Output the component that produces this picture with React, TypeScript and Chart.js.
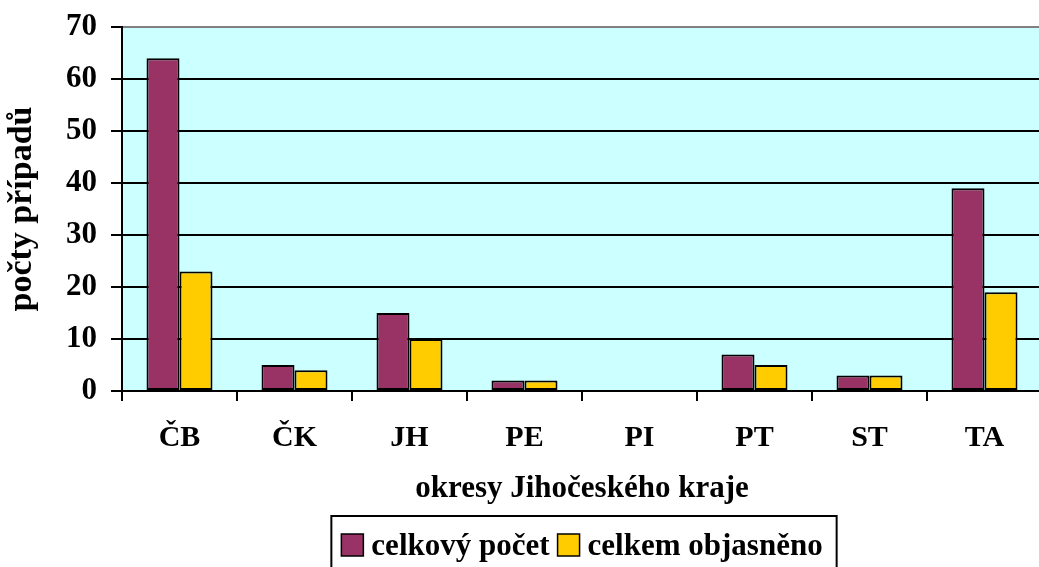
import React, { useEffect, useRef } from "react";
import { Chart, registerables } from "chart.js";

Chart.register(...registerables);

const categories = ["ČB", "ČK", "JH", "PE", "PI", "PT", "ST", "TA"];
const celkovyPocet = [64, 5, 15, 2, 0, 7, 3, 39];
const celkemObjasneno = [23, 4, 10, 2, 0, 5, 3, 19];
const seriesNames = ["celkový počet", "celkem objasněno"];
const xTitle = "okresy Jihočeského kraje";
const yTitle = "počty případů";
const yMin = 0;
const yMax = 70;
const yStep = 10;

const FONT = "'Times New Roman', 'Liberation Serif', serif";

const bgPlugin = {
  id: "plotBg",
  beforeDraw(chart: any) {
    const { ctx, chartArea } = chart;
    ctx.save();
    ctx.fillStyle = "#CCFFFF";
    ctx.fillRect(chartArea.left, chartArea.top, chartArea.right - chartArea.left, chartArea.bottom - chartArea.top);
    ctx.restore();
  },
};

const legendPlugin = {
  id: "boxLegend",
  afterDraw(chart: any) {
    const ctx = chart.ctx;
    const xs = chart.scales.x;
    const cx = (xs.left + xs.right) / 2;
    ctx.save();
    ctx.font = `bold 31px ${FONT}`;
    const sq = 22, gapSq = 8, gapItem = 8, padX = 10;
    const items = chart.data.datasets.map((d: any) => ({
      label: d.label,
      color: d.backgroundColor,
      w: ctx.measureText(d.label).width,
    }));
    const total =
      padX * 2 +
      items.reduce((s: number, it: any) => s + sq + gapSq + it.w, 0) +
      gapItem * (items.length - 1);
    let x = cx - total / 2;
    const top = 516;
    ctx.strokeStyle = "#000";
    ctx.lineWidth = 2;
    ctx.strokeRect(x, top, total + 4, 100);
    x += padX;
    const midY = 545;
    ctx.textBaseline = "middle";
    ctx.textAlign = "left";
    for (const it of items) {
      ctx.fillStyle = it.color;
      ctx.fillRect(x, midY - sq / 2, sq, sq);
      ctx.lineWidth = 1.5;
      ctx.strokeRect(x, midY - sq / 2, sq, sq);
      x += sq + gapSq;
      ctx.fillStyle = "#000";
      ctx.fillText(it.label, x, midY + 2);
      x += it.w + gapItem;
    }
    ctx.restore();
  },
};

export default function App() {
  const ref = useRef<HTMLCanvasElement>(null);
  useEffect(() => {
    if (!ref.current) return;
    const chart = new Chart(ref.current, {
      type: "bar",
      data: {
        labels: categories,
        datasets: [
          {
            label: seriesNames[0],
            data: celkovyPocet,
            backgroundColor: "#993366",
            borderColor: "#000",
            borderWidth: 2,
            borderSkipped: false,
          },
          {
            label: seriesNames[1],
            data: celkemObjasneno,
            backgroundColor: "#FFCC00",
            borderColor: "#000",
            borderWidth: 2,
            borderSkipped: false,
          },
        ],
      },
      options: {
        responsive: false,
        animation: false,
        layout: { padding: { left: 0, top: 27, right: 8, bottom: 59 } },
        datasets: { bar: { categoryPercentage: 0.574, barPercentage: 1.0 } },
        plugins: { legend: { display: false }, tooltip: { enabled: false } },
        scales: {
          x: {
            grid: { drawOnChartArea: false, offset: true, tickLength: 10, color: "#000", lineWidth: 2 },
            border: { color: "#000", width: 2 },
            ticks: { color: "#000", padding: 19, font: { family: FONT, size: 30, weight: "bold" } },
            title: {
              display: true,
              text: xTitle,
              color: "#000",
              padding: { top: 0, bottom: 0 },
              font: { family: FONT, size: 31, weight: "bold" },
            },
            afterFit(scale: any) {
              scale.height = 117;
              scale.paddingLeft = 0;
              scale.paddingRight = 0;
            },
          },
          y: {
            min: yMin,
            max: yMax,
            grid: {
              color: (c: any) => (c.tick && c.tick.value === yMax ? "#808080" : "#000"),
              lineWidth: 2,
              tickLength: 11,
              tickColor: "#000",
            },
            border: { color: "#000", width: 2 },
            ticks: { stepSize: yStep, color: "#000", padding: 14, font: { family: FONT, size: 31, weight: "bold" } },
            title: {
              display: true,
              text: yTitle,
              color: "#000",
              padding: { top: 2, bottom: 0 },
              font: { family: FONT, size: 34, weight: "bold" },
            },
            afterFit(scale: any) {
              scale.width = 122;
              scale.paddingTop = 0;
              scale.paddingBottom = 0;
            },
          },
        },
      },
      plugins: [bgPlugin, legendPlugin],
    });
    return () => chart.destroy();
  }, []);
  return (
    <div style={{ position: "fixed", left: 0, top: 0, width: 1039, height: 567, overflow: "hidden", background: "#fff" }}>
      <canvas ref={ref} width={1050} height={567} style={{ width: 1050, height: 567, display: "block" }} />
    </div>
  );
}
